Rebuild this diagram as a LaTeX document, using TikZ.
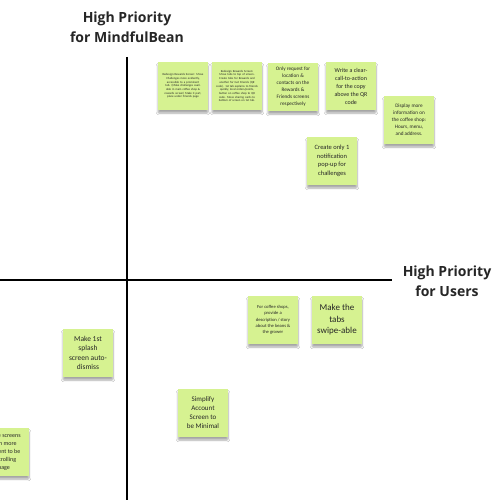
\documentclass[tikz,border=0pt]{standalone}
\usepackage{fontspec}
\setmainfont{Carlito}
\newfontfamily\headfont{Open Sans}
\usetikzlibrary{shadows.blur}
\definecolor{stickygreen}{RGB}{214,242,145}
\tikzset{
  axis/.style={line width=1.8pt, black},
  heading/.style={font=\headfont\bfseries\fontsize{14}{20}\selectfont, align=center, text=black!85},
  sticky/.style={fill=stickygreen, draw=none, minimum width=50pt, minimum height=48pt,
    inner sep=1pt, align=center, text=black!85,
    blur shadow={shadow xshift=0pt, shadow yshift=-3pt, shadow blur steps=6, shadow opacity=35, shadow blur extra rounding=1pt}},
}
\begin{document}
\begin{tikzpicture}[x=1pt,y=-1pt]
  \useasboundingbox (0,0) rectangle (500,500);
  \clip (0,0) rectangle (500,500);
  \fill[white] (0,0) rectangle (500,500);

  % axes and their headings
  \coordinate (vtop) at (127,57);
  \coordinate (vbot) at (127,500);
  \coordinate (hleft) at (0,280);
  \coordinate (hright) at (392,280);
  \draw[axis] (vtop) -- (vbot);
  \draw[axis] (hleft) -- (hright);
  \node[heading] (hbean) at (127,27) {High Priority\\for MindfulBean};
  \node[heading] (husers) at (447,281) {High Priority\\for Users};

  % sticky notes
  \node[sticky, font=\fontsize{3}{3.7}\selectfont, text width=42pt] (rewardsA) at (183,86)
    {Redesign Rewards Screen: Move Challenges more evidently, accessible to a prominent tab. (Make challenges available in main coffee shop \& rewards screen) Make it part, place under Friends page};
  \node[sticky, font=\fontsize{3}{3.7}\selectfont, text width=42pt] (rewardsB) at (237,86)
    {Redesign Rewards Screen: Move tabs to top of screen. Create tabs for Rewards and another for Get Friends (QR code). 1st tab explains to friends quickly, local orders/points, button on coffee shop to QR code. Move sharing cards to bottom of screen on 1st tab.};
  \node[sticky, font=\fontsize{5.2}{7}\selectfont] (request) at (293,87)
    {Only request for\\location \&\\contacts on the\\Rewards \&\\Friends screens\\respectively};
  \node[sticky, font=\fontsize{6}{8}\selectfont] (cta) at (351,86)
    {Write a clear-\\call-to-action\\for the copy\\above the QR\\code};
  \node[sticky, font=\fontsize{5.2}{7}\selectfont] (display) at (409,120)
    {Display more\\information on\\the coffee shop:\\Hours, menu,\\and address.};
  \node[sticky, font=\fontsize{6.5}{8.5}\selectfont] (popup) at (332,161)
    {Create only 1\\notification\\pop-up for\\challenges};
  \node[sticky, font=\fontsize{4.6}{6.3}\selectfont] (story) at (273,320)
    {For coffee shops,\\provide a\\description / story\\about the beans \&\\the grower};
  \node[sticky, font=\fontsize{9}{11.5}\selectfont] (swipe) at (337,320)
    {Make the\\tabs\\swipe-able};
  \node[sticky, font=\fontsize{7.5}{9.5}\selectfont] (splash) at (88,353)
    {Make 1st\\splash\\screen auto-\\dismiss};
  \node[sticky, font=\fontsize{7}{9}\selectfont] (account) at (203,413)
    {Simplify\\Account\\Screen to\\be Minimal};
  \node[sticky, font=\fontsize{6}{7.8}\selectfont] (scroll) at (4,452)
    {Make screens\\with more\\content to be\\a scrolling\\page};
\end{tikzpicture}
\end{document}
